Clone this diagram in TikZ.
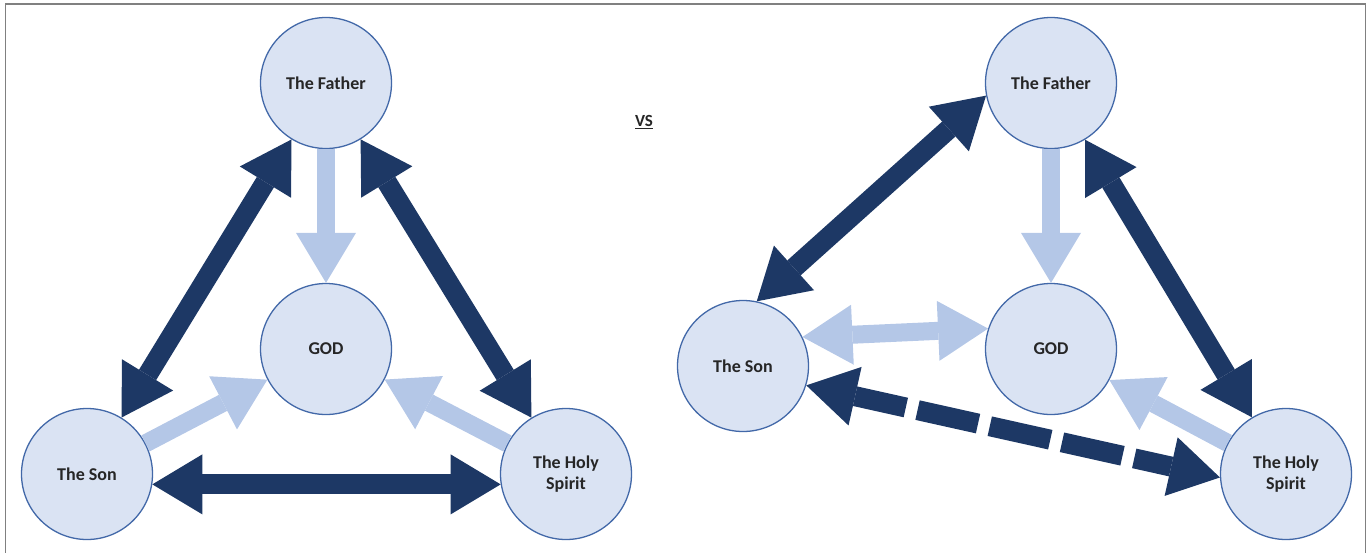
\documentclass[tikz,border=0pt]{standalone}
\usepackage{fontspec}
\setmainfont{Carlito}
\usetikzlibrary{arrows.meta}
\definecolor{darkblue}{HTML}{1D3865}
\definecolor{lightblue}{HTML}{B4C7E7}
\definecolor{circfill}{HTML}{DAE3F3}
\definecolor{circline}{HTML}{4268A8}
\definecolor{textcol}{HTML}{262626}
\definecolor{framecol}{HTML}{808080}
\begin{document}
\begin{tikzpicture}[x=1pt,y=-1pt,
  circ/.style={circle, minimum size=131pt, inner sep=0pt, fill=circfill, draw=circline,
    line width=1.3pt, font=\fontsize{18}{21}\selectfont\bfseries, text=textcol, align=center},
  tipA/.tip={Triangle[width=60pt,length=50pt,line width=0pt]},
  darkarr/.style={draw=darkblue, line width=20pt, tipA-tipA},
  lightone/.style={draw=lightblue, line width=18pt, -tipA},
  lighttwo/.style={draw=lightblue, line width=18pt, tipA-tipA},
  dasharr/.style={darkarr, dash pattern=on 62pt off 12pt, dash phase=10pt},
  frame/.style={draw=framecol, line width=1.5pt}
]
\useasboundingbox (0,0) rectangle (1371,552);
\draw[frame] (5.5,560) -- (5.5,4) -- (1365.5,4) -- (1365.5,560);

% left diagram
\node[circ] (F) at (326,83) {The Father};
\node[circ] (G) at (326,349) {GOD};
\node[circ] (S) at (87,474) {The Son};
\node[circ] (H) at (566,474) {The Holy\\Spirit};

\draw[darkarr] (F) -- (S);
\draw[darkarr] (F) -- (H);
\draw[darkarr] (S.-9) -- (H.189);
\draw[lightone] (F) -- (G);
\draw[lightone] (S) -- (G);
\draw[lightone] (H) -- (G);

% VS
\node[font=\fontsize{17}{20}\selectfont\bfseries, text=textcol] (vs) at (644,122) {\underline{VS}};

% right diagram
\node[circ] (F2) at (1051,83) {The Father};
\node[circ] (G2) at (1051,349) {GOD};
\node[circ] (S2) at (743,366) {The Son};
\node[circ] (H2) at (1286,474) {The Holy\\Spirit};

\draw[darkarr] (F2.191) -- (S2.78);
\draw[darkarr] (F2) -- (H2);
\draw[lightone] (F2) -- (G2);
\draw[lightone] (H2) -- (G2);
\draw[lighttwo] (S2.26) -- (G2.162);
\draw[dasharr] (S2.-17) -- (H2.183);
\end{tikzpicture}
\end{document}
